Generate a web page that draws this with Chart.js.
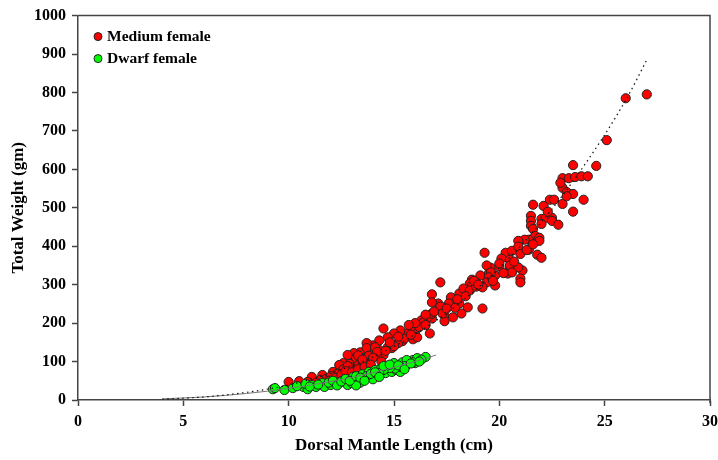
<!DOCTYPE html>
<html>
<head>
<meta charset="utf-8">
<script src="https://cdn.jsdelivr.net/npm/chart.js@4/dist/chart.umd.min.js"></script>
<style>
  html, body { margin: 0; padding: 0; background: #fff; }
  #wrap { width: 718px; height: 460px; }
</style>
</head>
<body>
<div id="wrap"><canvas id="chart" width="718" height="460"></canvas></div>
<script>
// Medium female: dorsal mantle length (cm) and total weight (gm)
const mediumX = [27.0, 26.0, 25.1, 23.5, 24.6, 23.0, 23.3, 23.6, 23.9, 24.2, 23.0, 23.2, 23.5, 24.0, 21.6, 22.1, 22.4, 22.6, 23.0, 23.5,
    21.5, 21.5, 22.0, 22.2, 22.5, 22.5, 22.8, 21.5, 21.6, 22.0, 21.7, 21.9, 21.9, 21.4, 21.2, 20.9, 21.4, 21.8, 22.0, 19.3,
    20.3, 20.6, 20.9, 20.1, 20.5, 21.0, 19.6, 20.0, 20.5, 20.8, 21.1, 20.4, 19.5, 19.8, 21.0, 17.2, 20.0, 20.5, 20.9, 20.6,
    21.0, 19.4, 19.6, 19.1, 19.5, 19.8, 19.4, 19.2, 18.9, 18.7, 18.6, 18.7, 19.2, 18.5, 18.2, 18.1, 18.1, 17.8, 17.7, 17.6,
    16.8, 17.1, 17.2, 17.4, 17.8, 16.8, 16.6, 16.3, 17.3, 17.4, 16.8, 17.2, 17.3, 16.8, 16.4, 16.7, 16.1, 15.8, 15.6, 15.3,
    15.0, 14.5, 14.7, 14.3, 15.4, 15.2, 15.9, 16.1, 14.0, 13.7, 13.9, 13.4, 13.1, 12.8, 14.7, 14.9, 14.3, 14.5, 14.2, 13.5,
    13.1, 12.6, 13.2, 10.0, 10.5, 11.1, 11.6, 12.1, 12.4, 12.9, 13.3, 13.7, 14.1, 12.9, 12.6, 13.4, 11.5, 10.9, 13.9, 11.8,
    12.3, 12.6, 13.0, 13.3, 13.6, 13.8, 14.2, 14.6, 15.0, 15.5, 15.8, 16.2, 16.5, 12.0, 12.8, 13.5, 14.0, 14.8, 15.2, 18.3,
    18.6, 18.9, 18.4, 18.0, 17.9, 17.5, 16.9, 16.5, 16.0, 15.7, 18.8, 19.0, 19.7, 20.2, 20.7, 21.3, 21.6, 22.3, 22.9, 23.2,
    11.3, 11.9, 12.2, 12.5, 12.7, 13.0, 13.3, 13.6, 13.9, 14.4];
const mediumY = [795, 785, 676, 611, 609, 577, 577, 580, 582, 582, 552, 541, 536, 521, 508, 505, 521, 521, 510, 490,
    479, 466, 471, 474, 474, 466, 456, 453, 445, 458, 427, 422, 414, 417, 417, 414, 391, 378, 370, 383,
    383, 388, 399, 368, 365, 380, 344, 347, 344, 347, 337, 329, 329, 324, 316, 306, 355, 350, 345, 332,
    306, 350, 332, 324, 319, 298, 306, 293, 306, 313, 303, 298, 238, 241, 225, 277, 251, 254, 267, 251,
    275, 251, 233, 220, 215, 212, 215, 207, 241, 205, 254, 243, 225, 225, 202, 173, 186, 189, 173, 181,
    173, 186, 163, 155, 153, 148, 158, 163, 142, 148, 130, 124, 122, 117, 137, 135, 130, 117, 117, 109,
    98, 96, 109, 47, 49, 60, 65, 73, 91, 94, 116, 135, 137, 70, 60, 96, 52, 47, 104, 55,
    68, 80, 85, 90, 100, 115, 125, 128, 140, 160, 170, 190, 195, 62, 88, 105, 110, 150, 165, 290,
    285, 295, 270, 262, 240, 238, 230, 222, 200, 195, 310, 300, 310, 330, 360, 390, 405, 490, 565, 530,
    45, 50, 58, 66, 75, 72, 80, 86, 92, 100];

// Dwarf female
const dwarfX = [9.25, 9.35, 9.8, 10.2, 10.7, 10.9, 11.1, 11.3, 11.6, 11.7, 12.0, 12.2, 12.4, 12.6, 12.8, 13.0, 13.05, 13.3, 13.5, 13.6,
    13.8, 14.0, 14.1, 14.2, 14.4, 14.6, 14.7, 14.9, 15.0, 15.1, 15.3, 15.4, 15.6, 15.9, 16.0, 16.1, 16.5, 16.3, 15.9, 15.6,
    15.5, 15.3, 15.05, 14.8, 14.5, 14.3, 14.0, 14.0, 13.7, 13.4, 13.2, 10.4, 10.8, 11.0, 11.4, 11.9, 12.1, 12.3, 12.5, 12.7,
    12.9, 13.2, 13.4, 13.6, 13.9, 14.1, 14.3, 14.5, 14.8, 15.2, 15.5, 15.8, 16.2];
const dwarfY = [28, 31, 26, 31, 34, 28, 39, 34, 44, 34, 39, 47, 44, 52, 39, 44, 60, 52, 67, 57,
    73, 60, 78, 65, 83, 70, 86, 73, 96, 78, 73, 98, 91, 104, 96, 109, 112, 105, 98, 104,
    88, 86, 82, 83, 78, 70, 65, 54, 62, 45, 38, 36, 42, 35, 40, 45, 50, 38, 48, 55,
    50, 62, 58, 50, 68, 72, 60, 88, 92, 90, 80, 95, 100];

// Fitted curves
const mediumFitX = [4, 6, 8, 10, 12, 14, 16, 18, 20, 22, 24, 26, 27];
const mediumFitY = [2, 8, 20, 39, 70, 112, 171, 247, 344, 463, 608, 780, 885];
const dwarfFitX = [4, 6, 8, 10, 12, 14, 16, 17];
const dwarfFitY = [3, 8, 17, 30, 48, 71, 100, 117];

const font = 'Liberation Serif, Times New Roman, serif';

function toPoints(xs, ys) {
    return xs.map((x, i) => ({ x: x, y: ys[i] }));
}

// Legend drawn inside the plot, top-left
const insideLegend = {
    id: 'insideLegend',
    afterDraw(chart) {
        const ctx = chart.ctx;
        const area = chart.chartArea;
        const items = chart.data.datasets.filter(d => d.type === 'scatter');
        ctx.save();
        ctx.font = 'bold 15.5px ' + font;
        ctx.textBaseline = 'middle';
        items.forEach((d, i) => {
            const cy = area.top + 21 + i * 22;
            ctx.beginPath();
            ctx.arc(area.left + 20, cy, 4, 0, Math.PI * 2);
            ctx.fillStyle = d.backgroundColor;
            ctx.fill();
            ctx.lineWidth = 1;
            ctx.strokeStyle = '#222';
            ctx.stroke();
            ctx.fillStyle = '#000';
            ctx.fillText(d.label, area.left + 29, cy);
        });
        ctx.restore();
    }
};

// Box around the plot area (top and right edges)
const frame = {
    id: 'frame',
    beforeDatasetsDraw(chart) {
        const a = chart.chartArea;
        const ctx = chart.ctx;
        ctx.save();
        ctx.strokeStyle = '#444';
        ctx.lineWidth = 1.5;
        ctx.beginPath();
        ctx.moveTo(a.left, a.top);
        ctx.lineTo(a.right, a.top);
        ctx.lineTo(a.right, a.bottom + 3);
        ctx.stroke();
        ctx.restore();
    }
};

const tickFont = { family: font, size: 16, weight: 'bold' };
const titleFont = { family: font, size: 17, weight: 'bold' };

new Chart(document.getElementById('chart'), {
    data: {
        datasets: [
            {
                type: 'scatter',
                label: 'Medium female',
                data: toPoints(mediumX, mediumY),
                backgroundColor: '#ff0000',
                borderColor: '#222',
                borderWidth: 1,
                pointRadius: 4.6,
                order: 3
            },
            {
                type: 'scatter',
                label: 'Dwarf female',
                data: toPoints(dwarfX, dwarfY),
                backgroundColor: '#00ff00',
                borderColor: '#222',
                borderWidth: 1,
                pointRadius: 4.6,
                order: 2
            },
            {
                type: 'line',
                label: 'Medium fit',
                data: toPoints(mediumFitX, mediumFitY),
                borderColor: '#111',
                borderWidth: 1.2,
                borderDash: [1.5, 3.5],
                pointRadius: 0,
                cubicInterpolationMode: 'monotone',
                fill: false,
                order: 1
            },
            {
                type: 'line',
                label: 'Dwarf fit',
                data: toPoints(dwarfFitX, dwarfFitY),
                borderColor: '#777',
                borderWidth: 1,
                pointRadius: 0,
                cubicInterpolationMode: 'monotone',
                fill: false,
                order: 1
            }
        ]
    },
    options: {
        responsive: false,
        animation: false,
        layout: { padding: { left: 4, right: 8, top: 14, bottom: 0 } },
        plugins: {
            legend: { display: false },
            tooltip: { enabled: false }
        },
        scales: {
            x: {
                type: 'linear',
                min: 0,
                max: 30,
                afterFit(scale) {
                    scale.height = 60;
                    scale.paddingRight = 0; // let "30" run to the edge like the original
                },
                ticks: { stepSize: 5, color: '#000', font: tickFont, padding: 6, maxRotation: 0 },
                grid: { drawOnChartArea: false, tickLength: 6, tickColor: '#444', tickWidth: 1.5 },
                border: { color: '#444', width: 1.5 },
                title: { display: true, text: 'Dorsal Mantle Length (cm)', color: '#000', font: titleFont, padding: { top: 6 } }
            },
            y: {
                type: 'linear',
                min: 0,
                max: 1000,
                afterFit(scale) { scale.width = 74; },
                ticks: { stepSize: 100, color: '#000', font: tickFont, padding: 6, callback: v => String(v) },
                grid: { drawOnChartArea: false, tickLength: 6, tickColor: '#444', tickWidth: 1.5 },
                border: { color: '#444', width: 1.5 },
                title: { display: true, text: 'Total Weight (gm)', color: '#000', font: titleFont, padding: { bottom: 2 } }
            }
        }
    },
    plugins: [frame, insideLegend]
});
</script>
</body>
</html>
